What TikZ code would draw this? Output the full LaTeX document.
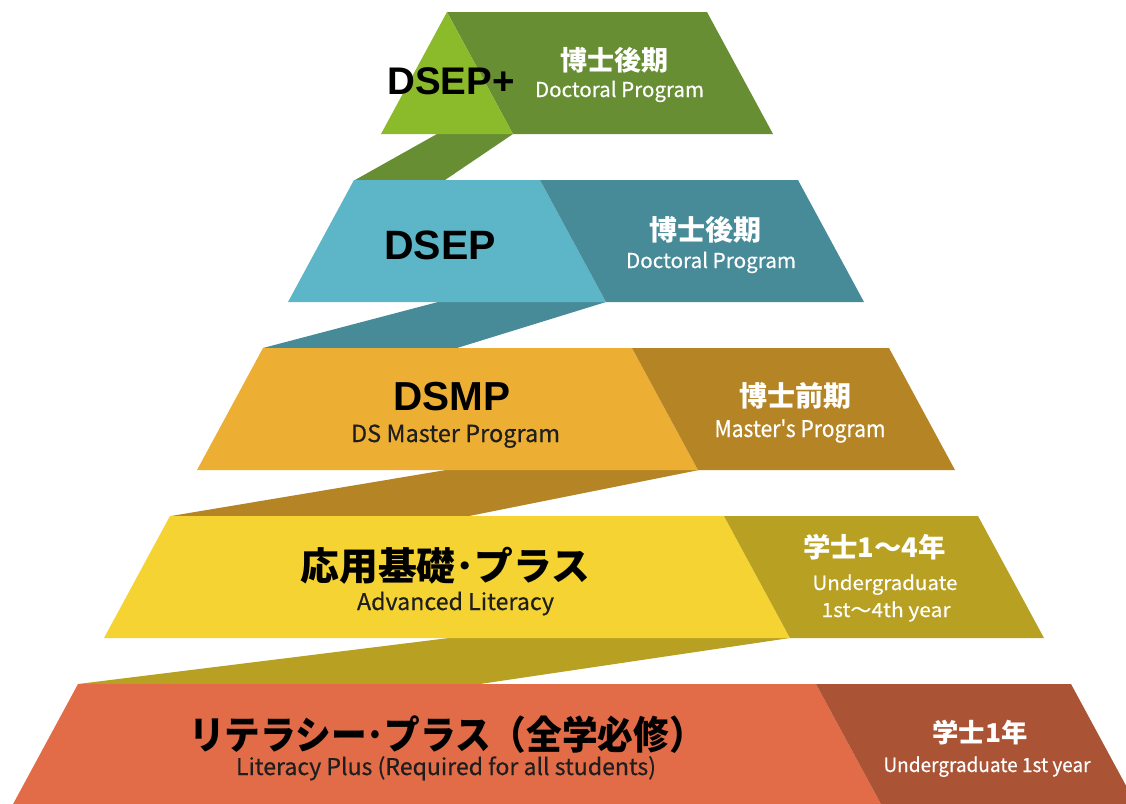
\documentclass[tikz,border=0pt]{standalone}
\usepackage{fontspec}
\usepackage{graphicx}
\newfontfamily\jpf{Noto Sans CJK JP}
\newfontfamily\enf[FakeBold=0.4]{Noto Sans CJK JP}
\newfontfamily\arf{Liberation Sans}
\definecolor{gL}{HTML}{8BBA2A}
\definecolor{gD}{HTML}{678E33}
\definecolor{bL}{HTML}{5CB6C8}
\definecolor{bD}{HTML}{488B98}
\definecolor{oL}{HTML}{ECAE33}
\definecolor{oD}{HTML}{B58425}
\definecolor{yL}{HTML}{F5D333}
\definecolor{yD}{HTML}{B8A022}
\definecolor{rL}{HTML}{E16C47}
\definecolor{rD}{HTML}{AA5335}
\definecolor{txt}{HTML}{1E1E1E}
\newcommand\fsz[1]{\fontsize{#1}{#1}\selectfont}
\newcommand\fw[2]{\resizebox{#1pt}{\height}{#2}}
\tikzset{
  lab/.style={inner sep=0pt, outer sep=0pt},
  big/.style={lab, text=black, font=\arf\bfseries},
  jpw/.style={lab, text=white, font=\jpf\bfseries},
  jpk/.style={lab, text=black, font=\jpf\bfseries},
  enw/.style={lab, text=white, font=\enf, anchor=base},
  enk/.style={lab, text=txt, font=\enf, anchor=base},
}
\begin{document}
\begin{tikzpicture}[x=1pt,y=-1pt]
\useasboundingbox (0,0) rectangle (1126,803);
\begin{scope}
\clip (0,0) rectangle (1126,803);
% connecting bands
\fill[gD] (437,134) -- (513,134) -- (445,180) -- (355,180) -- cycle;
\fill[bD] (438,302) -- (606,302) -- (457,348) -- (263,348) -- cycle;
\fill[oD] (446,470) -- (699,470) -- (469,516) -- (171,516) -- cycle;
\fill[yD] (449,638) -- (790,638) -- (480,684) -- (78,684) -- cycle;
% level 1
\fill[gD] (447,12) -- (707,12) -- (773,134) -- (513,134) -- cycle;
\fill[gL] (447,12) -- (513,134) -- (381,134) -- cycle;
% level 2
\fill[bL] (354,180) -- (540,180) -- (606,302) -- (288,302) -- cycle;
\fill[bD] (540,180) -- (798,180) -- (864,302) -- (606,302) -- cycle;
% level 3
\fill[oL] (263,348) -- (632,348) -- (698,470) -- (197,470) -- cycle;
\fill[oD] (632,348) -- (889,348) -- (955,470) -- (698,470) -- cycle;
% level 4
\fill[yL] (170,516) -- (724,516) -- (790,638) -- (104,638) -- cycle;
\fill[yD] (724,516) -- (978,516) -- (1044,638) -- (790,638) -- cycle;
% level 5
\fill[rL] (78,684) -- (816,684) -- (882,806) -- (12,806) -- cycle;
\fill[rD] (816,684) -- (1071,684) -- (1137,806) -- (882,806) -- cycle;
\end{scope}
% texts level 1
\node[big, font=\arf\bfseries\fsz{38.5}] (t1) at (451,81.5) {DSEP+};
\node[jpw, font=\jpf\bfseries\fsz{27}] (j1) at (614,60) {博士後期};
\node[enw, font=\enf\fsz{20.5}] (e1) at (619.5,97) {\fw{169}{Doctoral Program}};
% level 2
\node[big, font=\arf\bfseries\fsz{41}] (t2) at (440,245) {DSEP};
\node[jpw, font=\jpf\bfseries\fsz{28}] (j2) at (705,230) {博士後期};
\node[enw, font=\enf\fsz{20.5}] (e2) at (711,268) {\fw{170}{Doctoral Program}};
% level 3
\node[big, font=\arf\bfseries\fsz{40.5}] (t3) at (452,396.5) {DSMP};
\node[enk, font=\enf\fsz{23.5}] (e3a) at (455.5,442) {\fw{209}{DS Master Program}};
\node[jpw, font=\jpf\bfseries\fsz{28}] (j3) at (795,396) {博士前期};
\node[enw, font=\enf\fsz{23}] (e3b) at (800,437) {\fw{171}{Master's Program}};
% level 4
\node[jpk, font=\jpf\bfseries\fsz{38.5}] (t4) at (445.5,566) {\fw{290}{応用基礎･プラス}};
\node[enk, font=\enf\fsz{23}] (e4a) at (455.5,610) {\fw{197}{Advanced Literacy}};
\node[jpw, font=\jpf\bfseries\fsz{27}] (j4) at (874.5,547) {\fw{143}{学士1〜4年}};
\node[enw, font=\enf\fsz{19.5}] (e4b) at (885,590) {\fw{145}{Undergraduate}};
\node[enw, font=\enf\fsz{19.5}] (e4c) at (886,617) {\fw{129}{1st〜4th year}};
% level 5
\node[jpk, font=\jpf\bfseries\fsz{39}] (t5) at (447,735) {\fw{516}{リテラシー･プラス（全学必修）}};
\node[enk, font=\enf\fsz{23}] (e5a) at (446,775) {\fw{420}{Literacy Plus (Required for all students)}};
\node[jpw, font=\jpf\bfseries\fsz{26}] (j5) at (980,733) {\fw{95}{学士1年}};
\node[enw, font=\enf\fsz{19.5}] (e5b) at (987,772) {\fw{207}{Undergraduate 1st year}};
\end{tikzpicture}
\end{document}
